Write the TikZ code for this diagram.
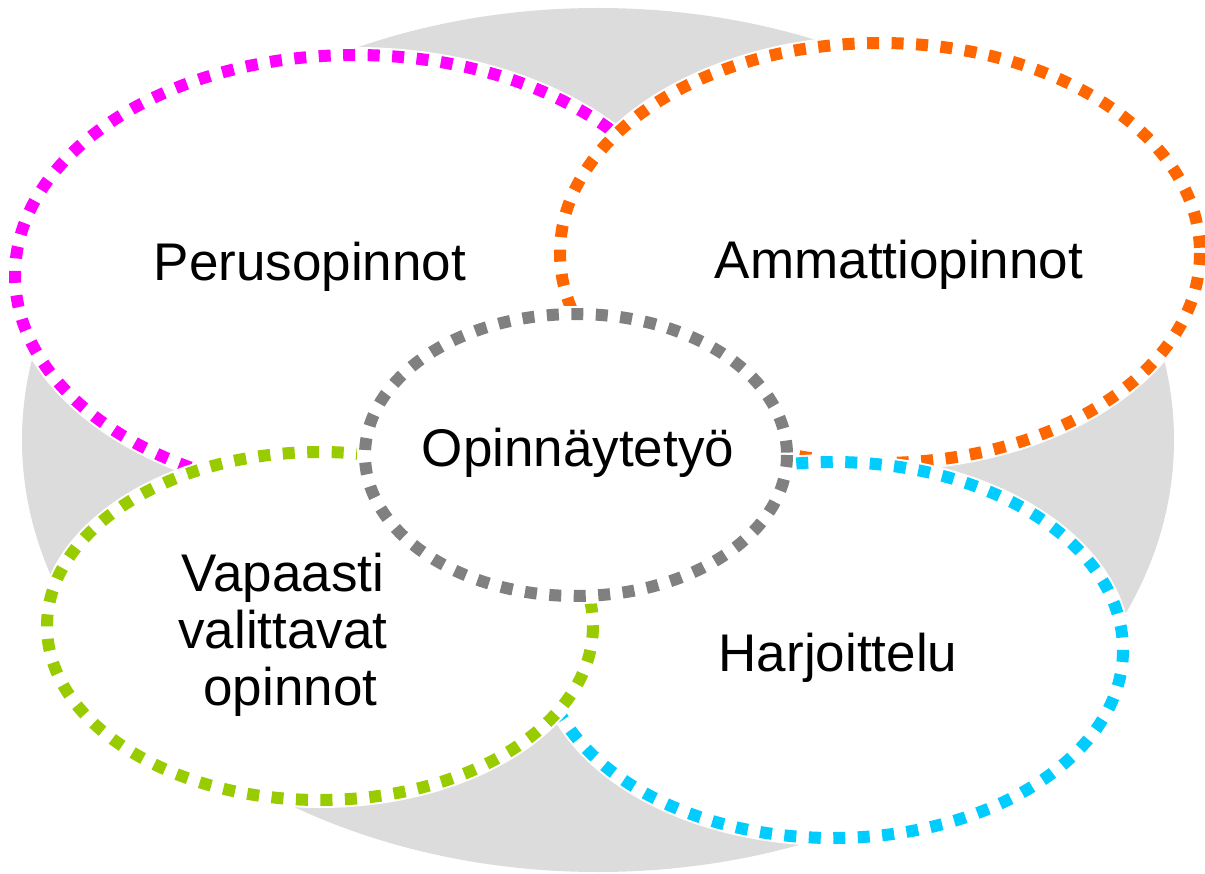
\documentclass[tikz,border=0pt]{standalone}
\usepackage{fontspec}
\setmainfont{Liberation Sans}
\definecolor{bggray}{HTML}{DCDCDC}
\definecolor{cmag}{HTML}{FF00FF}
\definecolor{corange}{HTML}{FF6600}
\definecolor{cgray}{HTML}{808080}
\definecolor{cgreen}{HTML}{99CC00}
\definecolor{ccyan}{HTML}{00CCFF}
\begin{document}
\begin{tikzpicture}[x=1pt,y=-1pt,
  vennring/.style={fill=white, preaction={draw=white, line width=16pt},
    line width=12pt, dash pattern=on 12pt off 12.5pt},
  lbl/.style={font=\fontsize{53}{57}\selectfont, text=black, inner sep=0pt, anchor=base}]
\useasboundingbox (0,0) rectangle (1205,874);
\fill[bggray] (598,440) ellipse [x radius=576, y radius=432];
% Perusopinnot
\draw[vennring, draw=cmag] (355,275) ellipse [x radius=340, y radius=220];
% Ammattiopinnot
\draw[vennring, draw=corange] (880,253) ellipse [x radius=320, y radius=210];
% Harjoittelu
\draw[vennring, draw=ccyan] (833,650) ellipse [x radius=290, y radius=188];
% Vapaasti valittavat opinnot
\draw[vennring, draw=cgreen] (320,626) ellipse [x radius=273, y radius=174];
% Opinnaytetyo
\draw[vennring, draw=cgray] (576,455) ellipse [x radius=211, y radius=141];
\node[lbl] (peru) at (310,281) {Perusopinnot};
\node[lbl] (amm) at (899,279) {Ammattiopinnot};
\node[lbl] (opin) at (578,466) {Opinnäytetyö};
\node[lbl] (harj) at (838,671) {Harjoittelu};
\node[lbl, align=center] (vapa) at (283,705) {Vapaasti\\valittavat\\\hspace*{0.278em}opinnot};
\end{tikzpicture}
\end{document}
